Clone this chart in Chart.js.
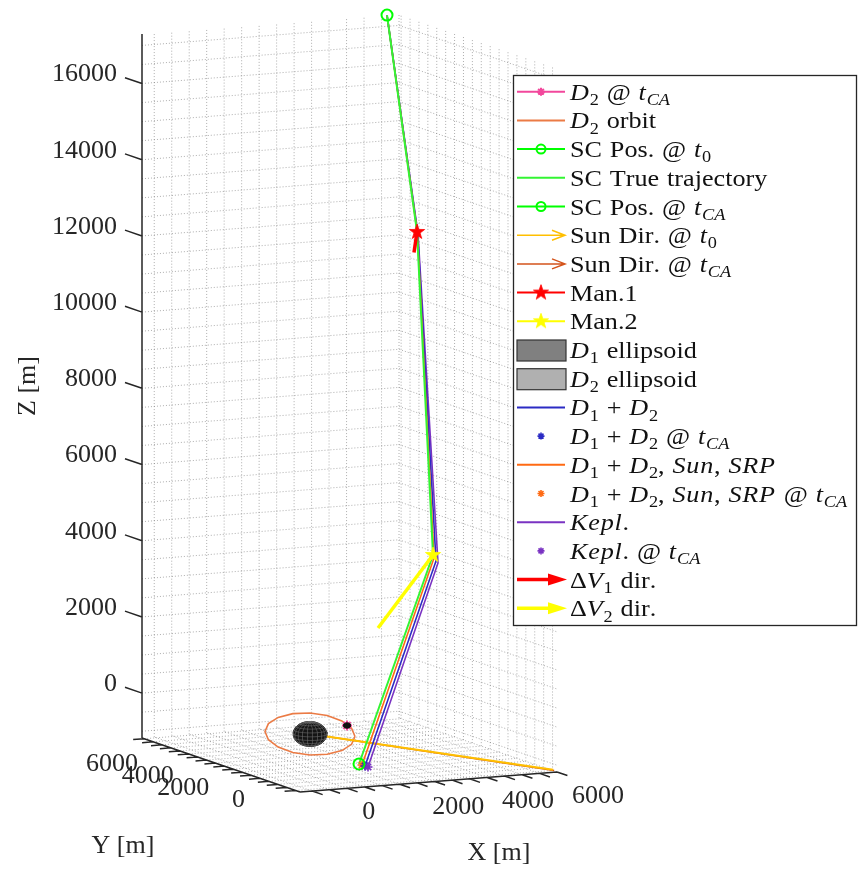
<!DOCTYPE html>
<html>
<head>
<meta charset="utf-8">
<title>Trajectory 3D</title>
<script src="https://cdn.jsdelivr.net/npm/chart.js@4.4.0/dist/chart.umd.min.js"></script>
<style>
  html, body { margin: 0; padding: 0; background: #fff; }
  #wrap { width: 858px; height: 870px; }
</style>
</head>
<body>
<div id="wrap"><canvas id="plot" width="858" height="870"></canvas></div>
<script>
// ---- axis limits / ticks (m) ----
const xLim = [-1350, 6000];
const yLim = [-2250, 6620];
const zLim = [-1178, 17300];
const xTicks = [0, 2000, 4000, 6000];
const yTicks = [0, 2000, 4000, 6000];
const zTicks = [0, 2000, 4000, 6000, 8000, 10000, 12000, 14000, 16000];
const minorStep = 500;

// ---- spacecraft paths [X, Y, Z]: t0, Man.1, Man.2, tCA ----
const scTrue   = [[5647, 6600, 17300], [5588, 4800, 11900], [4874, 2500, 3840], [720, -1500, -710]];
const propD1D2 = [[5647, 6600, 17300], [5605, 4800, 11872], [4960, 2500, 3676], [892, -1500, -775]];
const propSRP  = [[5647, 6600, 17300], [5596, 4800, 11886], [4903, 2500, 3759], [806, -1500, -742]];
const propKepl = [[5647, 6600, 17300], [5615, 4800, 11860], [5017, 2500, 3620], [977, -1500, -807]];

// delta-V directions (start, tip)
const dv1 = [[5588, 4800, 11900], [5502, 4800, 11369]];
const dv2 = [[4874, 2500, 3840], [3301, 2500, 2036]];

// sun directions from D1
const sunT0  = [[82, 0, -117], [5990, -2050, -1150]];
const sunTCA = [[82, 0, -117], [6000, -2090, -1165]];

// bodies
const d1Center = [82, 0, -117];
const d1Radii  = [430, 430, 320];
const d2Pos    = [1140, 0, 30];
const d2Radii  = [90, 90, 70];
const d2Orbit = [
  [1369, 0, -274], [1271, 0, -473], [992, 0, -618], [574, 0, -686],
  [82, 0, -668], [-410, 0, -566], [-828, 0, -396], [-1107, 0, -183],
  [-1205, 0, 40], [-1107, 0, 239], [-828, 0, 384], [-410, 0, 452],
  [82, 0, 434], [574, 0, 332], [992, 0, 162], [1271, 0, -51]
];

// ---- view: orthographic box on the page ----
const W = 858, H = 870;
const VIEW = { o: [300, 792], ax: [257, -20], ay: [-158, -54], az: [0, -704] };
const Rx = xLim[1] - xLim[0], Ry = yLim[1] - yLim[0], Rz = zLim[1] - zLim[0];

function proj(p) {
  const fx = (p[0] - xLim[0]) / Rx, fy = (p[1] - yLim[0]) / Ry, fz = (p[2] - zLim[0]) / Rz;
  return {
    x: VIEW.o[0] + fx * VIEW.ax[0] + fy * VIEW.ay[0] + fz * VIEW.az[0],
    y: VIEW.o[1] + fx * VIEW.ax[1] + fy * VIEW.ay[1] + fz * VIEW.az[1]
  };
}
const BREAK = { x: null, y: null };

// linear part of projection (per metre), rows = page x / page y
const Px = [VIEW.ax[0] / Rx, VIEW.ay[0] / Ry, VIEW.az[0] / Rz];
const Py = [VIEW.ax[1] / Rx, VIEW.ay[1] / Ry, VIEW.az[1] / Rz];
// direction towards the viewer
const toViewer = [
  -(Px[1] * Py[2] - Px[2] * Py[1]),
  -(Px[2] * Py[0] - Px[0] * Py[2]),
  -(Px[0] * Py[1] - Px[1] * Py[0])
];

function metresFor(px, vec, R) { return px * R / Math.hypot(vec[0], vec[1]); }

// ---- grid, axes, ticks ----
function gridData() {
  const pts = [];
  const seg = (...ps) => { ps.forEach(p => pts.push(proj(p))); pts.push(BREAK); };
  for (let x = Math.ceil(xLim[0] / minorStep) * minorStep; x <= xLim[1]; x += minorStep) {
    seg([x, yLim[1], zLim[0]], [x, yLim[1], zLim[1]]);
    seg([x, yLim[0], zLim[0]], [x, yLim[1], zLim[0]]);
  }
  for (let y = Math.ceil(yLim[0] / minorStep) * minorStep; y <= yLim[1]; y += minorStep) {
    seg([xLim[1], y, zLim[0]], [xLim[1], y, zLim[1]]);
    seg([xLim[0], y, zLim[0]], [xLim[1], y, zLim[0]]);
  }
  for (let z = Math.ceil(zLim[0] / minorStep) * minorStep; z <= zLim[1]; z += minorStep) {
    seg([xLim[0], yLim[1], z], [xLim[1], yLim[1], z], [xLim[1], yLim[0], z]);
  }
  return pts;
}

function axesData() {
  const pts = [];
  const seg = (a, b) => { pts.push(proj(a), proj(b), BREAK); };
  seg([xLim[0], yLim[1], zLim[0]], [xLim[0], yLim[1], zLim[1]]);
  seg([xLim[0], yLim[0], zLim[0]], [xLim[0], yLim[1], zLim[0]]);
  seg([xLim[0], yLim[0], zLim[0]], [xLim[1], yLim[0], zLim[0]]);
  const zLen = metresFor(18, VIEW.ay, Ry);
  zTicks.forEach(z => seg([xLim[0], yLim[1], z], [xLim[0], yLim[1] + zLen, z]));
  const xLen = metresFor(11, VIEW.ay, Ry);
  for (let x = Math.ceil(xLim[0] / minorStep) * minorStep; x <= xLim[1]; x += minorStep) {
    seg([x, yLim[0], zLim[0]], [x, yLim[0] - xLen, zLim[0]]);
  }
  const yLen = metresFor(11, VIEW.ax, Rx);
  for (let y = Math.ceil(yLim[0] / minorStep) * minorStep; y <= yLim[1]; y += minorStep) {
    seg([xLim[0], y, zLim[0]], [xLim[0] - yLen, y, zLim[0]]);
  }
  return pts;
}

// ---- ellipsoids ----
function outline(c, r) {
  const M = [[Px[0] * r[0], Px[1] * r[1], Px[2] * r[2]], [Py[0] * r[0], Py[1] * r[1], Py[2] * r[2]]];
  const p = M[0].reduce((s, v) => s + v * v, 0);
  const q = M[0].reduce((s, v, i) => s + v * M[1][i], 0);
  const s2 = M[1].reduce((s, v) => s + v * v, 0);
  const det = Math.sqrt(p * s2 - q * q);
  const k = Math.sqrt(p + s2 + 2 * det);
  const A = [[(p + det) / k, q / k], [q / k, (s2 + det) / k]];
  const c2 = proj(c);
  const pts = [];
  for (let a = 0; a <= 360; a += 10) {
    const u = Math.cos(a * Math.PI / 180), v = Math.sin(a * Math.PI / 180);
    pts.push({ x: c2.x + A[0][0] * u + A[0][1] * v, y: c2.y + A[1][0] * u + A[1][1] * v });
  }
  return pts;
}

function meshData(c, r) {
  const pts = [];
  const visible = s => (s[0] / r[0]) * toViewer[0] + (s[1] / r[1]) * toViewer[1] + (s[2] / r[2]) * toViewer[2] > 0;
  const push = s => {
    if (visible(s)) pts.push(proj([c[0] + r[0] * s[0], c[1] + r[1] * s[1], c[2] + r[2] * s[2]]));
    else if (pts.length && pts[pts.length - 1] !== BREAK) pts.push(BREAK);
  };
  const d = Math.PI / 180;
  for (let lon = 0; lon < 360; lon += 18) {
    for (let lat = -90; lat <= 90; lat += 10) {
      push([Math.cos(lat * d) * Math.cos(lon * d), Math.cos(lat * d) * Math.sin(lon * d), Math.sin(lat * d)]);
    }
    pts.push(BREAK);
  }
  for (let lat = -72; lat <= 72; lat += 18) {
    for (let lon = 0; lon <= 360; lon += 10) {
      push([Math.cos(lat * d) * Math.cos(lon * d), Math.cos(lat * d) * Math.sin(lon * d), Math.sin(lat * d)]);
    }
    pts.push(BREAK);
  }
  return pts;
}

// filled pentagram marker
function pentagram(color, r) {
  const c = document.createElement('canvas');
  c.width = c.height = 2 * r + 2;
  const g = c.getContext('2d');
  g.beginPath();
  for (let k = 0; k < 10; k++) {
    const a = -Math.PI / 2 + k * Math.PI / 5, rr = k % 2 ? r * 0.4 : r;
    g.lineTo(r + 1 + rr * Math.cos(a), r + 1 + rr * Math.sin(a));
  }
  g.closePath();
  g.fillStyle = color; g.fill();
  g.strokeStyle = color; g.lineWidth = 0.8; g.stroke();
  return c;
}

const PINK = '#f2479c', ORBIT = '#eb7b45', GREEN = '#00ff00', GREEN2 = '#33f533';
const GOLD = '#ffbf00', RUST = '#d4541c', RED = '#ff0000', YELLOW = '#ffff00';
const BLUE = '#2b2bc4', ORANGE = '#ff6a13', PURPLE = '#7a33c2';
const SERIF = '"Liberation Serif", "Times New Roman", serif';

function line(label, pts3, color, width, order, kind) {
  return { label, legendKind: kind, data: pts3.map(proj), showLine: true, borderColor: color,
           borderWidth: width, pointRadius: 0, fill: false, order };
}
function marker(label, p, style, radius, color, order, kind, extra) {
  return Object.assign({ label, legendKind: kind, data: [proj(p)], showLine: false, pointStyle: style,
           pointRadius: radius, pointBorderWidth: 1.6, pointBorderColor: color,
           pointBackgroundColor: color, borderColor: color, order }, extra || {});
}

const datasets = [
  marker('$D_2$ @ $t_{CA}$', d2Pos, 'star', 5, PINK, 45, 'linemarker', { pointBorderWidth: 2 }),
  line('$D_2$ orbit', d2Orbit.concat([d2Orbit[0]]), ORBIT, 1.6, 60, 'line'),
  marker('SC Pos. @ $t_0$', scTrue[0], 'circle', 5.5, GREEN, 15, 'linemarker',
         { pointBorderWidth: 2, pointBackgroundColor: 'rgba(0,0,0,0)' }),
  line('SC True trajectory', scTrue, GREEN2, 2, 36, 'line'),
  marker('SC Pos. @ $t_{CA}$', scTrue[3], 'circle', 5.5, GREEN, 15, 'linemarker',
         { pointBorderWidth: 2, pointBackgroundColor: 'rgba(0,0,0,0)' }),
  line('Sun Dir. @ $t_0$', sunT0, GOLD, 2, 55, 'arrow'),
  line('Sun Dir. @ $t_{CA}$', sunTCA, RUST, 1.6, 56, 'arrow'),
  marker('Man.1', scTrue[1], pentagram(RED, 8), 8, RED, 10, 'linemarker'),
  marker('Man.2', scTrue[2], pentagram(YELLOW, 8), 8, YELLOW, 10, 'linemarker'),
  { label: '$D_1$ ellipsoid', legendKind: 'patch', legendFill: '#808080', data: outline(d1Center, d1Radii),
    showLine: true, fill: 'shape', backgroundColor: '#141414', borderColor: '#141414', borderWidth: 1,
    pointRadius: 0, order: 50 },
  { label: '$D_2$ ellipsoid', legendKind: 'patch', legendFill: '#b0b0b0', data: outline(d2Pos, d2Radii),
    showLine: true, fill: 'shape', backgroundColor: '#111', borderColor: '#111', borderWidth: 1,
    pointRadius: 0, order: 44 },
  line('$D_1 + D_2$', propD1D2, BLUE, 1.6, 38, 'line'),
  marker('$D_1 + D_2$ @ $t_{CA}$', propD1D2[3], 'star', 4.5, BLUE, 20, 'marker'),
  line('$D_1 + D_2, Sun, SRP$', propSRP, ORANGE, 1.6, 37, 'line'),
  marker('$D_1 + D_2, Sun, SRP$ @ $t_{CA}$', propSRP[3], 'star', 4.5, ORANGE, 21, 'marker'),
  line('$Kepl.$', propKepl, PURPLE, 1.6, 39, 'line'),
  marker('$Kepl.$ @ $t_{CA}$', propKepl[3], 'star', 4.5, PURPLE, 19, 'marker'),
  line('$\\Delta V_1$ dir.', dv1, RED, 3.5, 30, 'dvarrow'),
  line('$\\Delta V_2$ dir.', dv2, YELLOW, 3.5, 30, 'dvarrow'),
  // scene furniture
  { label: 'grid', data: gridData(), showLine: true, borderColor: 'rgba(120,120,120,0.6)', borderWidth: 1,
    borderDash: [1, 2], pointRadius: 0, spanGaps: false, order: 100 },
  { label: 'axes', data: axesData(), showLine: true, borderColor: '#262626', borderWidth: 1.5,
    pointRadius: 0, spanGaps: false, order: 95 },
  { label: 'D1 mesh', data: meshData(d1Center, d1Radii), showLine: true, borderColor: '#6a6a6a',
    borderWidth: 0.6, pointRadius: 0, spanGaps: false, order: 49 }
];

// ---- text with $..$ math: italic letters, _sub, \Delta ----
function parseRich(str) {
  const runs = [];
  let math = false;
  for (let i = 0; i < str.length; i++) {
    const c = str[i];
    if (c === '$') { math = !math; continue; }
    if (!math) { runs.push({ t: c, it: false, sub: false, math }); continue; }
    if (c === '\\') {
      let j = i + 1, name = '';
      while (j < str.length && /[A-Za-z]/.test(str[j])) name += str[j++];
      runs.push({ t: name === 'Delta' ? '\u0394' : name, it: false, sub: false, math });
      while (str[j] === ' ') j++;
      i = j - 1; continue;
    }
    if (c === '_') {
      let grp;
      if (str[i + 1] === '{') { const k = str.indexOf('}', i); grp = str.slice(i + 2, k); i = k; }
      else { grp = str[i + 1]; i++; }
      for (const g of grp) runs.push({ t: g, it: /[A-Za-z]/.test(g), sub: true, math });
      continue;
    }
    runs.push({ t: c, it: /[A-Za-z]/.test(c), sub: false, math });
  }
  return runs;
}

function drawRich(ctx, str, x, y, size, stretch) {
  ctx.save();
  ctx.translate(x, y);
  ctx.scale(stretch, 1);
  ctx.textAlign = 'left';
  ctx.textBaseline = 'alphabetic';
  let cx = 0;
  parseRich(str).forEach(r => {
    if (r.t === ' ') { cx += (r.math ? 0.3 : 0.3) * size; return; }
    const fs = r.sub ? size * 0.7 : size;
    ctx.font = (r.it ? 'italic ' : '') + fs + 'px ' + SERIF;
    ctx.fillText(r.t, cx, r.sub ? size * 0.22 : 0);
    cx += ctx.measureText(r.t).width + (r.it && !r.sub ? size * 0.03 : 0);
  });
  ctx.restore();
}

function drawMarker(ctx, ds, x, y) {
  const st = ds.pointStyle, r = ds.pointRadius;
  if (typeof st === 'object') { ctx.drawImage(st, x - st.width / 2, y - st.height / 2); return; }
  ctx.strokeStyle = ds.pointBorderColor;
  ctx.lineWidth = ds.pointBorderWidth;
  ctx.beginPath();
  if (st === 'circle') {
    ctx.arc(x, y, r - 1, 0, Math.PI * 2);
  } else {
    const rr = r - 1, d = rr * Math.SQRT1_2;
    ctx.moveTo(x - rr, y); ctx.lineTo(x + rr, y);
    ctx.moveTo(x, y - rr); ctx.lineTo(x, y + rr);
    ctx.moveTo(x - d, y - d); ctx.lineTo(x + d, y + d);
    ctx.moveTo(x - d, y + d); ctx.lineTo(x + d, y - d);
  }
  ctx.stroke();
}

function drawKey(ctx, ds, x0, x1, y) {
  const mid = (x0 + x1) / 2;
  ctx.save();
  ctx.setLineDash([]);
  ctx.lineCap = 'butt';
  const col = ds.borderColor;
  if (ds.legendKind === 'patch') {
    ctx.fillStyle = ds.legendFill;
    ctx.fillRect(x0, y - 10, x1 - x0 + 1, 21);
    ctx.strokeStyle = '#333'; ctx.lineWidth = 1.2;
    ctx.strokeRect(x0, y - 10, x1 - x0 + 1, 21);
  } else if (ds.legendKind === 'arrow') {
    ctx.strokeStyle = col; ctx.lineWidth = 1.5;
    ctx.beginPath(); ctx.moveTo(x0, y); ctx.lineTo(x1, y);
    ctx.moveTo(x1 - 13, y - 5); ctx.lineTo(x1, y); ctx.lineTo(x1 - 13, y + 5);
    ctx.stroke();
  } else if (ds.legendKind === 'dvarrow') {
    ctx.strokeStyle = col; ctx.fillStyle = col; ctx.lineWidth = 3.5;
    ctx.beginPath(); ctx.moveTo(x0, y); ctx.lineTo(x1 - 12, y); ctx.stroke();
    ctx.beginPath(); ctx.moveTo(x1 - 17, y - 6); ctx.lineTo(x1 + 2, y); ctx.lineTo(x1 - 17, y + 6);
    ctx.closePath(); ctx.fill();
  } else {
    if (ds.legendKind !== 'marker') {
      ctx.strokeStyle = col; ctx.lineWidth = 2;
      ctx.beginPath(); ctx.moveTo(x0, y); ctx.lineTo(x1, y); ctx.stroke();
    }
    if (ds.legendKind !== 'line') drawMarker(ctx, ds, mid, y);
  }
  ctx.restore();
}

// tick labels and axis titles
const axisText = {
  id: 'axisText',
  afterDatasetsDraw(chart) {
    const ctx = chart.ctx, sx = chart.scales.x, sy = chart.scales.y;
    const px = p => { const q = proj(p); return [sx.getPixelForValue(q.x), sy.getPixelForValue(q.y)]; };
    ctx.save();
    ctx.fillStyle = '#262626';
    ctx.font = '26px ' + SERIF;
    ctx.textBaseline = 'middle';
    ctx.textAlign = 'right';
    zTicks.forEach(z => { const [x, y] = px([xLim[0], yLim[1], z]); ctx.fillText(String(z), x - 25, y - 9); });
    yTicks.forEach(v => { const [x, y] = px([xLim[0], v, zLim[0]]); ctx.fillText(String(v), x - 15, y + 22); });
    ctx.textAlign = 'left';
    xTicks.forEach(v => { const [x, y] = px([v, yLim[0], zLim[0]]); ctx.fillText(String(v), x + 15, y + 24); });
    ctx.textAlign = 'center';
    ctx.fillText('X [m]', 499, 853);
    ctx.fillText('Y [m]', 123, 846);
    ctx.translate(28, 386);
    ctx.rotate(-Math.PI / 2);
    ctx.fillText('Z [m]', 0, 0);
    ctx.restore();
  }
};

// boxed legend on the right
const legendBox = {
  id: 'legendBox',
  afterDraw(chart) {
    const ctx = chart.ctx;
    const L = 513, T = 75, R = 857, B = 626, row0 = 91.7, step = 28.7;
    ctx.save();
    ctx.fillStyle = '#fff';
    ctx.fillRect(L, T, R - L, B - T);
    ctx.strokeStyle = '#262626'; ctx.lineWidth = 1.3;
    ctx.strokeRect(L + 0.5, T + 0.5, R - L - 1, B - T - 1);
    let i = 0;
    chart.data.datasets.forEach(ds => {
      if (!ds.legendKind) return;
      const y = row0 + step * i++;
      drawKey(ctx, ds, 517, 565, y);
      ctx.fillStyle = '#111';
      drawRich(ctx, ds.label, 570, y + 8, 24, 1.09);
    });
    ctx.restore();
  }
};

new Chart(document.getElementById('plot'), {
  type: 'scatter',
  data: { datasets },
  options: {
    responsive: false,
    animation: false,
    events: [],
    layout: { padding: 0, autoPadding: false },
    scales: {
      x: { type: 'linear', min: 0, max: W, display: false },
      y: { type: 'linear', min: 0, max: H, reverse: true, display: false }
    },
    elements: { line: { tension: 0 } },
    plugins: { legend: { display: false }, tooltip: { enabled: false } }
  },
  plugins: [axisText, legendBox]
});
</script>
</body>
</html>
